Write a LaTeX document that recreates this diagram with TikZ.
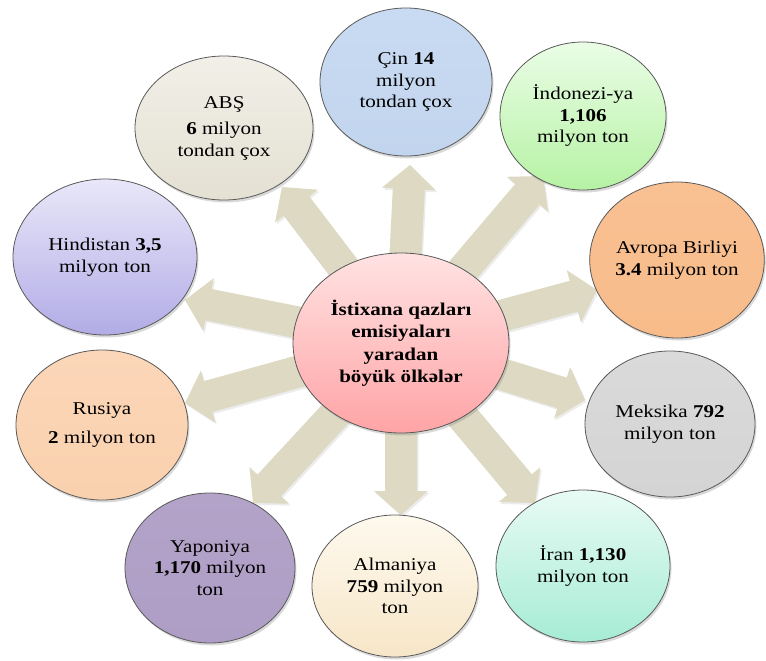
\documentclass[tikz,border=0pt]{standalone}
\usepackage{fontspec}
\setmainfont{Liberation Serif}[FakeStretch=1.17]
\usetikzlibrary{shapes.geometric,calc,shadows}
\definecolor{arrowc}{HTML}{DDD9C3}
\definecolor{absT}{HTML}{F1EFE7}\definecolor{absB}{HTML}{E4E1D3}
\definecolor{hinT}{HTML}{E9E7F9}\definecolor{hinB}{HTML}{B2ACE6}
\definecolor{cinT}{HTML}{C9DBF2}\definecolor{cinB}{HTML}{C2D5EE}
\definecolor{indT}{HTML}{EAFDE6}\definecolor{indB}{HTML}{B6F2A4}
\definecolor{avrT}{HTML}{F9C092}\definecolor{avrB}{HTML}{F8BC8A}
\definecolor{mekT}{HTML}{DADADA}\definecolor{mekB}{HTML}{D4D4D4}
\definecolor{iraT}{HTML}{E8FBF4}\definecolor{iraB}{HTML}{A6ECD4}
\definecolor{almT}{HTML}{FEF9EE}\definecolor{almB}{HTML}{F7E6C8}
\definecolor{yapT}{HTML}{B4A3C9}\definecolor{yapB}{HTML}{AE9DC4}
\definecolor{rusT}{HTML}{FBD6B8}\definecolor{rusB}{HTML}{FAD1AE}
\definecolor{cenT}{HTML}{FFE2E2}\definecolor{cenB}{HTML}{FFA4A6}
\tikzset{
  bubble/.style={ellipse, draw=black!65, line width=0.8pt, inner sep=0pt, outer sep=0pt,
    align=center, font=\fontsize{18pt}{21.5pt}\selectfont,
    drop shadow={shadow xshift=1.5pt, shadow yshift=-2.5pt, opacity=0.3}},
  fatarrowstyle/.style={fill=arrowc, draw=none,
    drop shadow={shadow xshift=1.5pt, shadow yshift=-2pt, opacity=0.15}},
}
\newcommand{\fatarrow}[2]{%
  \coordinate (fa-b) at ($(#2)!24pt!(#1)$);
  \fill[fatarrowstyle] ($(#1)!16pt!90:(#2)$) -- ($(fa-b)!16pt!90:(#2)$)
    -- ($(fa-b)!27pt!90:(#2)$) -- (#2) -- ($(fa-b)!27pt!-90:(#2)$)
    -- ($(fa-b)!16pt!-90:(#2)$) -- ($(#1)!16pt!-90:(#2)$) -- cycle;
}
\begin{document}
\begin{tikzpicture}[x=1pt,y=-1pt]
\useasboundingbox (0,0) rectangle (766,661);
\coordinate (c0) at (401,343);
% arrow tips
\coordinate (t-abs) at (282,187);
\coordinate (t-cin) at (410,165);
\coordinate (t-ind) at (543,176);
\coordinate (t-avr) at (597,290);
\coordinate (t-mek) at (585,400);
\coordinate (t-ira) at (535,503);
\coordinate (t-alm) at (401,515);
\coordinate (t-yap) at (253,503);
\coordinate (t-rus) at (185,403);
\coordinate (t-hin) at (185,300);
\foreach \t in {abs,cin,ind,avr,mek,ira,alm,yap,rus,hin}{\fatarrow{c0}{t-\t}}
% outer bubbles
\node[bubble, minimum width=178pt, minimum height=144pt, top color=absT, bottom color=absB] (abs) at (224,128)
  {ABŞ\\[5pt]\textbf{6} milyon\\tondan çox};
\node[bubble, minimum width=172pt, minimum height=148pt, top color=cinT, bottom color=cinB] (cin) at (406,82)
  {Çin \textbf{14}\\milyon\\tondan çox};
\node[bubble, minimum width=166pt, minimum height=148pt, top color=indT, bottom color=indB] (ind) at (583,116)
  {İndonezi-ya\\\textbf{1,106}\\milyon ton};
\node[bubble, minimum width=174pt, minimum height=156pt, top color=avrT, bottom color=avrB] (avr) at (677,260)
  {Avropa Birliyi\\\textbf{3.4} milyon ton};
\node[bubble, minimum width=170pt, minimum height=146pt, top color=mekT, bottom color=mekB] (mek) at (670,424)
  {Meksika \textbf{792}\\milyon ton};
\node[bubble, minimum width=174pt, minimum height=152pt, top color=iraT, bottom color=iraB] (ira) at (583,566)
  {İran \textbf{1,130}\\milyon ton};
\node[bubble, minimum width=166pt, minimum height=142pt, top color=almT, bottom color=almB] (alm) at (395,586)
  {Almaniya\\\textbf{759} milyon\\ton};
\node[bubble, minimum width=170pt, minimum height=150pt, top color=yapT, bottom color=yapB] (yap) at (210,568)
  {Yaponiya\\\textbf{1,170} milyon\\ton};
\node[bubble, minimum width=172pt, minimum height=150pt, top color=rusT, bottom color=rusB] (rus) at (102,425)
  {Rusiya\\[8pt]\textbf{2} milyon ton};
\node[bubble, minimum width=184pt, minimum height=156pt, top color=hinT, bottom color=hinB] (hin) at (105,257)
  {Hindistan \textbf{3,5}\\milyon ton};
% centre
\node[bubble, minimum width=216pt, minimum height=180pt, top color=cenT, bottom color=cenB,
  font=\fontsize{18pt}{22.5pt}\selectfont\bfseries] (c) at (c0)
  {İstixana qazları\\emisiyaları\\yaradan\\böyük ölkələr};
\end{tikzpicture}
\end{document}
